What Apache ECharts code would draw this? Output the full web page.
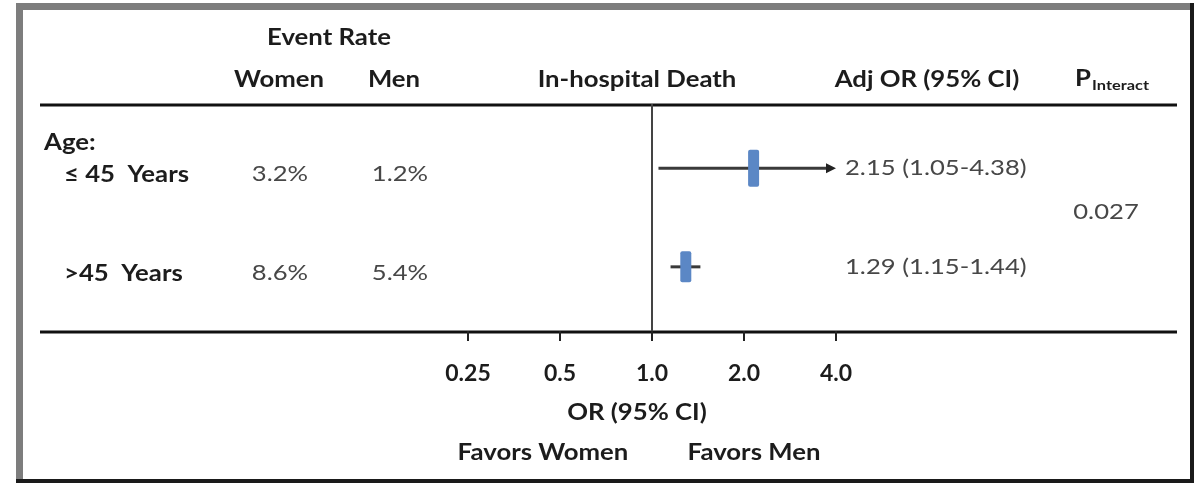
<!DOCTYPE html>
<html>
<head>
<meta charset="utf-8">
<script src="https://cdn.jsdelivr.net/npm/echarts@6/dist/echarts.min.js"></script>
<style>
  html, body { margin: 0; padding: 0; background: #fff; }
  #chart { width: 1202px; height: 483px; }
</style>
</head>
<body>
<div id="chart"></div>
<script>
// ---- data ----
const subgroupTitle = 'Age:';
const subgroups = ['\u2264 45  Years', '>45  Years'];
const rateWomen = [3.2, 8.6];
const rateMen = [1.2, 5.4];
const adjOR = [2.15, 1.29];
const ciLower = [1.05, 1.15];
const ciUpper = [4.38, 1.44];
const pInteract = '0.027';
const orTicks = [0.25, 0.5, 1, 2, 4];
const orTickLabels = ['0.25', '0.5', '1.0', '2.0', '4.0'];

// ---- styles ----
const FONT = 'Lato, "Open Sans", sans-serif';
const HEAD = 'bold 22px ' + FONT;
const BODY = '21px ' + FONT;
const INK = '#1c1c1c';
const SOFT = '#474747';
const BOX = '#5b87c5';
const BOX_H = [37, 31];
const HEAD_STRETCH = 1.17;
const BODY_STRETCH = 1.22;

const chart = echarts.init(document.getElementById('chart'), null, { renderer: 'canvas' });

function txt(text, x, y, font, fill, align) {
  return {
    type: 'text', x: x, y: y, silent: true,
    scaleX: font === BODY ? BODY_STRETCH : HEAD_STRETCH,
    style: {
      text: text, font: font, fill: fill,
      align: align || 'center', textAlign: align || 'center',
      verticalAlign: 'middle', textVerticalAlign: 'middle'
    }
  };
}

// confidence interval whiskers, clipped with an arrow at the axis end
function renderCI(params, api) {
  const row = api.value(0);
  const est = api.value(1);
  const lo = api.value(2);
  const hi = api.value(3);
  const xMax = orTicks[orTicks.length - 1];
  const clipped = hi > xMax;
  const pLo = api.coord([lo, row]);
  const pHi = api.coord([Math.min(hi, xMax), row]);
  const pEst = api.coord([est, row]);
  const children = [];
  children.push({
    type: 'line',
    shape: { x1: pLo[0], y1: pLo[1], x2: clipped ? pHi[0] - 7 : pHi[0], y2: pHi[1] },
    style: { stroke: '#3a3a3a', lineWidth: 3 }
  });
  if (clipped) {
    children.push({
      type: 'polygon',
      shape: { points: [[pHi[0], pHi[1]], [pHi[0] - 10, pHi[1] - 5], [pHi[0] - 10, pHi[1] + 5]] },
      style: { fill: '#222' }
    });
  }
  const h = BOX_H[params.dataIndex];
  children.push({
    type: 'rect',
    shape: { x: pEst[0] - 5.5, y: pEst[1] - h / 2, width: 11, height: h, r: 2 },
    style: { fill: BOX }
  });
  return { type: 'group', children: children };
}

// table columns of each subgroup row
function renderRow(params, api) {
  const i = params.dataIndex;
  const y = api.coord([1, api.value(1)])[1];
  return {
    type: 'group',
    children: [
      txt(subgroups[i], 64, y + 7, HEAD, INK, 'left'),
      txt(rateWomen[i].toFixed(1) + '%', 280, y + 6, BODY, SOFT),
      txt(rateMen[i].toFixed(1) + '%', 400, y + 6, BODY, SOFT),
      txt(adjOR[i].toFixed(2) + ' (' + ciLower[i].toFixed(2) + '-' + ciUpper[i].toFixed(2) + ')',
          845, y, BODY, SOFT, 'left')
    ]
  };
}

const option = {
  backgroundColor: '#fff',
  animation: false,
  grid: { left: 468, width: 368, top: 104, height: 227 },
  xAxis: {
    type: 'log', logBase: 2,
    min: orTicks[0], max: orTicks[orTicks.length - 1],
    axisLine: { show: false },
    splitLine: { show: false },
    axisTick: { show: true, length: 10, lineStyle: { color: '#222', width: 2 } },
    axisLabel: {
      margin: 31, color: INK, fontFamily: FONT, fontWeight: 'bold', fontSize: 23,
      formatter: function (v) {
        let k = 0, best = Infinity;
        orTicks.forEach(function (t, j) { const d = Math.abs(Math.log(v) - Math.log(t)); if (d < best) { best = d; k = j; } });
        return orTickLabels[k];
      }
    }
  },
  yAxis: { type: 'value', inverse: true, min: 0.35, max: 2.65, show: false },
  series: [
    {
      type: 'custom', name: 'In-hospital Death',
      renderItem: renderCI,
      encode: { x: [1, 2, 3], y: 0 },
      data: subgroups.map(function (_, i) { return [i + 1, adjOR[i], ciLower[i], ciUpper[i]]; }),
      markLine: {
        silent: true, symbol: 'none', label: { show: false },
        lineStyle: { color: '#444', width: 2, type: 'solid' },
        data: [{ xAxis: 1 }]
      },
      z: 3
    },
    {
      type: 'custom', name: 'rows',
      renderItem: renderRow,
      encode: { x: 0, y: 1 },
      data: subgroups.map(function (_, i) { return [1, i + 1]; }),
      silent: true
    }
  ],
  graphic: [
    // frame
    { type: 'rect', shape: { x: 16, y: 3, width: 7, height: 480 }, style: { fill: '#7d7d7d' }, silent: true },
    { type: 'rect', shape: { x: 16, y: 3, width: 1178, height: 7 }, style: { fill: '#7d7d7d' }, silent: true },
    { type: 'rect', shape: { x: 1190, y: 3, width: 4, height: 480 }, style: { fill: '#1a1a1a' }, silent: true },
    { type: 'rect', shape: { x: 16, y: 479, width: 1178, height: 4 }, style: { fill: '#1a1a1a' }, silent: true },
    // table rules
    { type: 'line', shape: { x1: 40, y1: 105, x2: 1177, y2: 105 }, style: { stroke: '#111', lineWidth: 3 }, silent: true },
    { type: 'line', shape: { x1: 40, y1: 332, x2: 1177, y2: 332 }, style: { stroke: '#111', lineWidth: 3 }, silent: true },
    // headers
    txt('Event Rate', 329, 38, HEAD, INK),
    txt('Women', 279, 80, HEAD, INK),
    txt('Men', 394, 80, HEAD, INK),
    txt('In-hospital Death', 637, 80, HEAD, INK),
    txt('Adj OR (95% CI)', 927, 80, HEAD, INK),
    {
      type: 'text', x: 1112, y: 80, scaleX: HEAD_STRETCH, silent: true,
      style: {
        text: '{p|P}{s|Interact}', fill: INK,
        align: 'center', textAlign: 'center', verticalAlign: 'middle', textVerticalAlign: 'middle',
        rich: {
          p: { font: HEAD, fill: INK, verticalAlign: 'top' },
          s: { font: 'bold 14px ' + FONT, fill: INK, padding: [10, 0, 0, 1] }
        }
      }
    },
    txt(subgroupTitle, 44, 143, HEAD, INK, 'left'),
    txt(pInteract, 1106, 212, BODY, SOFT),
    // axis captions
    txt('OR (95% CI)', 637, 413, HEAD, INK),
    txt('Favors Women', 543, 453, HEAD, INK),
    txt('Favors Men', 754, 453, HEAD, INK)
  ]
};

chart.setOption(option);
</script>
</body>
</html>
